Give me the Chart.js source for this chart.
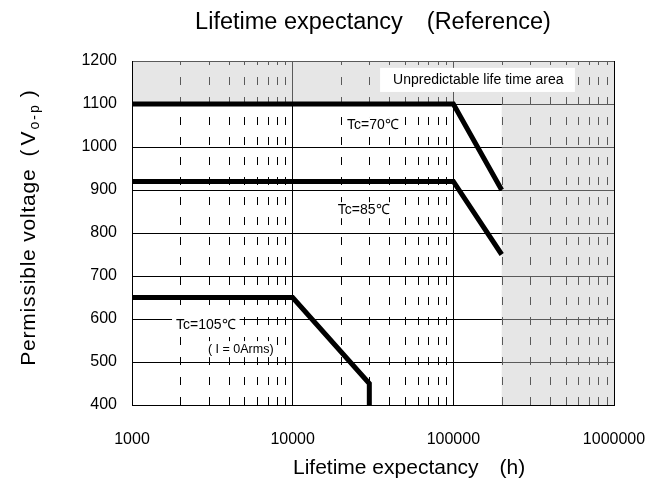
<!DOCTYPE html>
<html>
<head>
<meta charset="utf-8">
<script src="https://cdn.jsdelivr.net/npm/chart.js@4.4.0/dist/chart.umd.min.js"></script>
<style>
  html, body { margin: 0; padding: 0; background: #fff; }
</style>
</head>
<body>
<canvas id="myChart" width="667" height="487"></canvas>
<script>
// curves (hours, volts)
var hours70 = [1000, 100000, 200000];
var volts70 = [1100, 1100, 900];
var hours85 = [1000, 100000, 200000];
var volts85 = [920, 920, 750];
var hours105 = [1000, 10000, 30000, 30000];
var volts105 = [650, 650, 450, 400];

var xTicks = [1000, 10000, 100000, 1000000];
var minorSteps = [2, 3, 4, 5, 6, 7, 8, 9];
var yMin = 400, yMax = 1200, yStep = 100;

// shaded "unpredictable" region
var unpredictableHours = 200000;
var unpredictableVolts = 1100;

var FONT = '"Liberation Sans", Arial, sans-serif';

function pts(xs, ys) {
    return xs.map(function (x, i) { return { x: x, y: ys[i] }; });
}

function lineSet(xs, ys) {
    return {
        data: pts(xs, ys),
        showLine: true,
        borderColor: '#000',
        borderWidth: 5,
        pointRadius: 0,
        fill: false
    };
}

function boxedText(c, text, x, cy, font, pad) {
    c.font = font;
    var w = c.measureText(text).width;
    c.fillStyle = '#fff';
    c.fillRect(x - pad, cy - 8, w + 2 * pad, 16);
    c.fillStyle = '#000';
    c.textBaseline = 'middle';
    c.textAlign = 'left';
    c.fillText(text, x, cy);
}

var decorPlugin = {
    id: 'decor',
    beforeDatasetsDraw: function (chart) {
        var c = chart.ctx, a = chart.chartArea;
        var xs = chart.scales.x, ys = chart.scales.y;
        c.save();

        // dashed minor grid
        c.strokeStyle = '#000';
        c.lineWidth = 1;
        c.setLineDash([8, 12]);
        xTicks.slice(0, -1).forEach(function (d) {
            minorSteps.forEach(function (k) {
                var px = Math.round(xs.getPixelForValue(d * k)) + 0.5;
                c.beginPath();
                c.moveTo(px, a.bottom);
                c.lineTo(px, a.top);
                c.stroke();
            });
        });
        c.setLineDash([]);

        // grey areas
        c.fillStyle = 'rgba(200,200,200,0.45)';
        var yTop = ys.getPixelForValue(unpredictableVolts);
        var xR = xs.getPixelForValue(unpredictableHours);
        c.fillRect(a.left + 1, a.top, xR - a.left - 1, yTop - a.top);
        c.fillRect(xR, a.top, a.right - xR, a.bottom - a.top);

        // label box in the grey area
        var bx0 = xs.getPixelForValue(35000), bx1 = xs.getPixelForValue(571000);
        var by0 = ys.getPixelForValue(1184), by1 = ys.getPixelForValue(1128);
        c.fillStyle = '#fff';
        c.fillRect(bx0, by0, bx1 - bx0, by1 - by0);
        c.fillStyle = '#000';
        c.font = '14px ' + FONT;
        c.textBaseline = 'middle';
        c.fillText('Unpredictable life time area', bx0 + 13, (by0 + by1) / 2);

        // curve labels
        var f14 = '14px ' + FONT;
        boxedText(c, 'Tc=70\u2103', xs.getPixelForValue(21800), ys.getPixelForValue(1051), f14, 3);
        boxedText(c, 'Tc=85\u2103', xs.getPixelForValue(19100), ys.getPixelForValue(853), f14, 3);
        boxedText(c, 'Tc=105\u2103', xs.getPixelForValue(1880), ys.getPixelForValue(586), f14, 4);
        boxedText(c, '( I = 0Arms)', xs.getPixelForValue(2970), ys.getPixelForValue(530), '12.5px ' + FONT, 2);

        c.restore();
    },
    afterDraw: function (chart) {
        var c = chart.ctx, a = chart.chartArea;
        c.save();
        c.fillStyle = '#000';

        // x axis title
        c.font = '21px ' + FONT;
        c.textAlign = 'left';
        c.textBaseline = 'middle';
        c.fillText('Lifetime expectancy\u3000(h)', a.left + 161, 468);

        // y axis title with subscript
        c.translate(27, 228);
        c.rotate(-Math.PI / 2);
        c.textAlign = 'left';
        c.textBaseline = 'alphabetic';
        var big = '21px ' + FONT, small = '14px ' + FONT;
        var parts = [
            { t: 'Permissible voltage', f: big, dy: 7.5, sp: 0.8 },
            { t: '(', f: big, dy: 7.5, sp: 0, gap: 12 },
            { t: 'V', f: big, dy: 7.5, sp: 0, gap: 4 },
            { t: 'o-p', f: small, dy: 12, sp: 2, gap: 2 },
            { t: ')', f: big, dy: 7.5, sp: 0, gap: 6 }
        ];
        var total = 0;
        parts.forEach(function (p) {
            c.font = p.f;
            c.letterSpacing = p.sp + 'px';
            p.w = c.measureText(p.t).width;
            total += (p.gap || 0) + p.w;
        });
        var x = -total / 2;
        parts.forEach(function (p) {
            x += p.gap || 0;
            c.font = p.f;
            c.letterSpacing = p.sp + 'px';
            c.fillText(p.t, x, p.dy);
            x += p.w;
        });
        c.restore();
    }
};

var ctx = document.getElementById('myChart').getContext('2d');
var myChart = new Chart(ctx, {
    type: 'scatter',
    data: {
        datasets: [
            lineSet(hours70, volts70),
            lineSet(hours85, volts85),
            lineSet(hours105, volts105)
        ]
    },
    options: {
        responsive: false,
        animation: false,
        layout: { padding: { left: 0, right: 53, top: 0, bottom: 0 } },
        plugins: {
            legend: { display: false },
            tooltip: { enabled: false },
            title: {
                display: true,
                fullSize: false,
                text: 'Lifetime expectancy\u3000(Reference)',
                color: '#000',
                font: { family: FONT, size: 23.5, weight: 'normal' },
                padding: { top: 8, bottom: 24.8 }
            }
        },
        scales: {
            x: {
                type: 'logarithmic',
                min: xTicks[0],
                max: xTicks[xTicks.length - 1],
                afterBuildTicks: function (scale) {
                    scale.ticks = xTicks.map(function (v) { return { value: v, major: true }; });
                },
                afterFit: function (scale) {
                    scale.height = 82;
                    scale.paddingLeft = 0;
                    scale.paddingRight = 0;
                },
                ticks: {
                    color: '#000',
                    font: { family: FONT, size: 16 },
                    padding: 25,
                    maxRotation: 0,
                    autoSkip: false,
                    callback: function (v) { return String(v); }
                },
                grid: { color: '#000', lineWidth: 1, drawTicks: false },
                border: { color: '#000', width: 1 }
            },
            y: {
                min: yMin,
                max: yMax,
                afterFit: function (scale) { scale.width = 132; },
                ticks: {
                    stepSize: yStep,
                    color: '#000',
                    font: { family: FONT, size: 16 },
                    padding: 15,
                    callback: function (v) { return String(v); }
                },
                grid: { color: '#000', lineWidth: 1, drawTicks: false },
                border: { color: '#000', width: 1 }
            }
        }
    },
    plugins: [decorPlugin]
});
</script>
</body>
</html>
